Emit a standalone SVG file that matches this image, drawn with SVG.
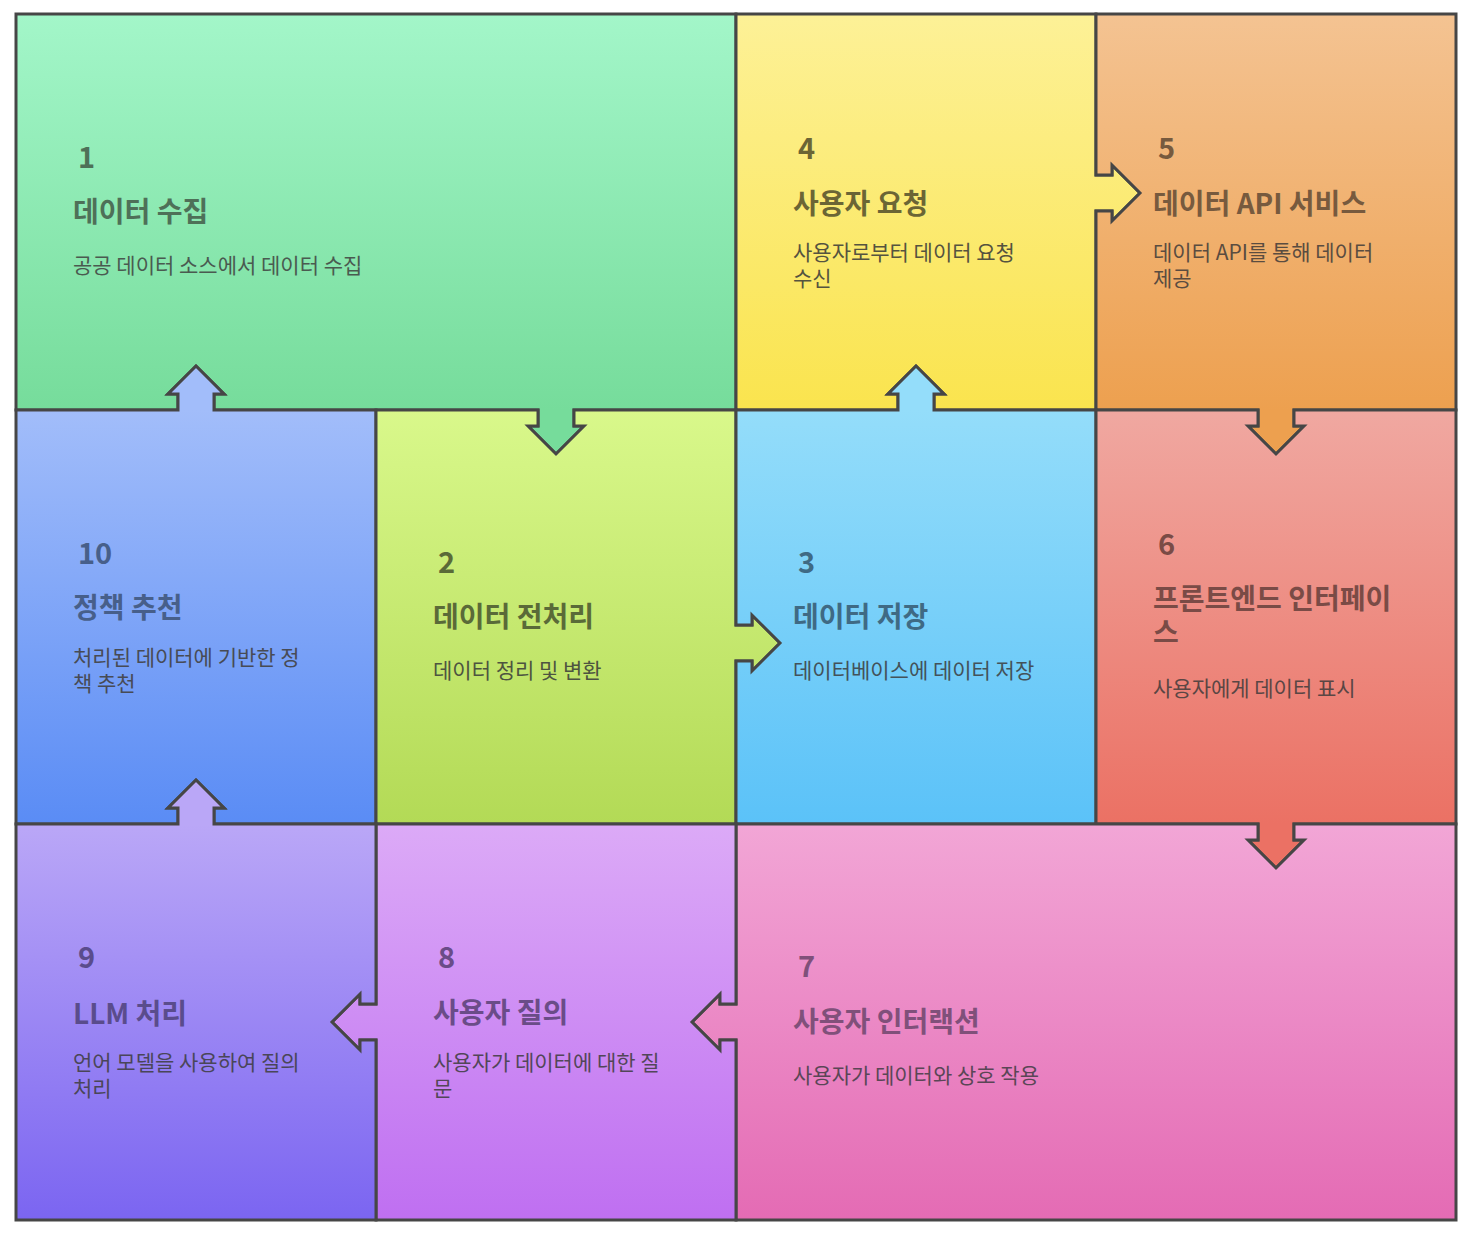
<svg xmlns="http://www.w3.org/2000/svg" width="1472" height="1238" viewBox="0 0 1472 1238">
<style>
.cell{stroke:#464646;stroke-width:3;stroke-linejoin:miter}
.num{font-family:"Noto Sans CJK KR","Noto Sans",sans-serif;font-size:29px;font-weight:700}
.ttl{font-family:"Noto Sans CJK KR","Noto Sans",sans-serif;font-size:28px;font-weight:700}
.dsc{font-family:"Noto Sans CJK KR","Noto Sans",sans-serif;font-size:21px;font-weight:400}
</style>
<defs>
<linearGradient id="g1" gradientUnits="userSpaceOnUse" x1="0" y1="14" x2="0" y2="410"><stop offset="0" stop-color="#a3f6c9"/><stop offset="1" stop-color="#76dc9b"/></linearGradient>
<linearGradient id="g4" gradientUnits="userSpaceOnUse" x1="0" y1="14" x2="0" y2="410"><stop offset="0" stop-color="#fdf197"/><stop offset="1" stop-color="#fae44e"/></linearGradient>
<linearGradient id="g5" gradientUnits="userSpaceOnUse" x1="0" y1="14" x2="0" y2="410"><stop offset="0" stop-color="#f4c392"/><stop offset="1" stop-color="#eda04f"/></linearGradient>
<linearGradient id="g10" gradientUnits="userSpaceOnUse" x1="0" y1="410" x2="0" y2="824"><stop offset="0" stop-color="#a2bdfa"/><stop offset="1" stop-color="#5a8cf5"/></linearGradient>
<linearGradient id="g2" gradientUnits="userSpaceOnUse" x1="0" y1="410" x2="0" y2="824"><stop offset="0" stop-color="#d9f88b"/><stop offset="1" stop-color="#b3da56"/></linearGradient>
<linearGradient id="g3" gradientUnits="userSpaceOnUse" x1="0" y1="410" x2="0" y2="824"><stop offset="0" stop-color="#94ddfa"/><stop offset="1" stop-color="#5bc2f8"/></linearGradient>
<linearGradient id="g6" gradientUnits="userSpaceOnUse" x1="0" y1="410" x2="0" y2="824"><stop offset="0" stop-color="#f0a8a1"/><stop offset="1" stop-color="#eb7164"/></linearGradient>
<linearGradient id="g9" gradientUnits="userSpaceOnUse" x1="0" y1="824" x2="0" y2="1220"><stop offset="0" stop-color="#baa7f7"/><stop offset="1" stop-color="#7b65f1"/></linearGradient>
<linearGradient id="g8" gradientUnits="userSpaceOnUse" x1="0" y1="824" x2="0" y2="1220"><stop offset="0" stop-color="#dcaaf7"/><stop offset="1" stop-color="#bf6ff1"/></linearGradient>
<linearGradient id="g7" gradientUnits="userSpaceOnUse" x1="0" y1="824" x2="0" y2="1220"><stop offset="0" stop-color="#f2a6d6"/><stop offset="1" stop-color="#e46bb4"/></linearGradient>
</defs>

<g id="connectors">
<!-- arrows are drawn as tabs of the source cells' outlines -->
</g>

<g id="node1">
<path class="cell" fill="url(#g1)" d="M16,14 L736,14 L736,410 L574,410 L574,426 L584,426 L556,454 L528,426 L538,426 L538,410 L214,410 L214,394 L224,394 L196,366 L168,394 L178,394 L178,410 L16,410 Z"/>
<text class="num" x="78" y="168" fill="#4e7058">1</text>
<text class="ttl" x="73" y="222" fill="#4e7058">데이터 수집</text>
<text class="dsc" x="73" y="273" fill="#4a5a50">공공 데이터 소스에서 데이터 수집</text>
</g>

<g id="node4">
<path class="cell" fill="url(#g4)" d="M736,14 L1096,14 L1096,175 L1112,175 L1112,165 L1140,193 L1112,221 L1112,211 L1096,211 L1096,410 L934,410 L934,394 L944,394 L916,366 L888,394 L898,394 L898,410 L736,410 Z"/>
<text class="num" x="798" y="159" fill="#6b6535">4</text>
<text class="ttl" x="793" y="214" fill="#6b6535">사용자 요청</text>
<text class="dsc" x="793" y="260" fill="#55533f">사용자로부터 데이터 요청</text>
<text class="dsc" x="793" y="286" fill="#55533f">수신</text>
</g>

<g id="node5">
<path class="cell" fill="url(#g5)" d="M1096,14 L1456,14 L1456,410 L1294,410 L1294,426 L1304,426 L1276,454 L1248,426 L1258,426 L1258,410 L1096,410 L1096,211 L1112,211 L1112,221 L1140,193 L1112,165 L1112,175 L1096,175 Z"/>
<text class="num" x="1158" y="159" fill="#775a3e">5</text>
<text class="ttl" x="1153" y="214" fill="#775a3e">데이터 API 서비스</text>
<text class="dsc" x="1153" y="260" fill="#5a4c40">데이터 API를 통해 데이터</text>
<text class="dsc" x="1153" y="286" fill="#5a4c40">제공</text>
</g>

<g id="node10">
<path class="cell" fill="url(#g10)" d="M16,410 L178,410 L178,394 L168,394 L196,366 L224,394 L214,394 L214,410 L376,410 L376,824 L214,824 L214,808 L224,808 L196,780 L168,808 L178,808 L178,824 L16,824 Z"/>
<text class="num" x="78" y="564" fill="#475f8a">10</text>
<text class="ttl" x="73" y="618" fill="#475f8a">정책 추천</text>
<text class="dsc" x="73" y="665" fill="#474b55">처리된 데이터에 기반한 정</text>
<text class="dsc" x="73" y="691" fill="#474b55">책 추천</text>
</g>

<g id="node2">
<path class="cell" fill="url(#g2)" d="M376,410 L538,410 L538,426 L528,426 L556,454 L584,426 L574,426 L574,410 L736,410 L736,625 L752,625 L752,615 L780,643 L752,671 L752,661 L736,661 L736,824 L376,824 Z"/>
<text class="num" x="438" y="573" fill="#5a6a38">2</text>
<text class="ttl" x="433" y="627" fill="#5a6a38">데이터 전처리</text>
<text class="dsc" x="433" y="678" fill="#4d5440">데이터 정리 및 변환</text>
</g>

<g id="node3">
<path class="cell" fill="url(#g3)" d="M736,410 L898,410 L898,394 L888,394 L916,366 L944,394 L934,394 L934,410 L1096,410 L1096,824 L736,824 L736,661 L752,661 L752,671 L780,643 L752,615 L752,625 L736,625 Z"/>
<text class="num" x="798" y="573" fill="#3f6a84">3</text>
<text class="ttl" x="793" y="627" fill="#3f6a84">데이터 저장</text>
<text class="dsc" x="793" y="678" fill="#43525a">데이터베이스에 데이터 저장</text>
</g>

<g id="node6">
<path class="cell" fill="url(#g6)" d="M1096,410 L1258,410 L1258,426 L1248,426 L1276,454 L1304,426 L1294,426 L1294,410 L1456,410 L1456,824 L1294,824 L1294,840 L1304,840 L1276,868 L1248,840 L1258,840 L1258,824 L1096,824 Z"/>
<text class="num" x="1158" y="555" fill="#7a4b46">6</text>
<text class="ttl" x="1153" y="609" fill="#7a4b46">프론트엔드 인터페이</text>
<text class="ttl" x="1153" y="643" fill="#7a4b46">스</text>
<text class="dsc" x="1153" y="696" fill="#5a4644">사용자에게 데이터 표시</text>
</g>

<g id="node7">
<path class="cell" fill="url(#g7)" d="M736,824 L1258,824 L1258,840 L1248,840 L1276,868 L1304,840 L1294,840 L1294,824 L1456,824 L1456,1220 L736,1220 L736,1040 L720,1040 L720,1050 L692,1022 L720,994 L720,1004 L736,1004 Z"/>
<text class="num" x="798" y="977" fill="#80507a">7</text>
<text class="ttl" x="793" y="1032" fill="#80507a">사용자 인터랙션</text>
<text class="dsc" x="793" y="1083" fill="#5a4656">사용자가 데이터와 상호 작용</text>
</g>

<g id="node8">
<path class="cell" fill="url(#g8)" d="M376,824 L736,824 L736,1004 L720,1004 L720,994 L692,1022 L720,1050 L720,1040 L736,1040 L736,1220 L376,1220 L376,1040 L360,1040 L360,1050 L332,1022 L360,994 L360,1004 L376,1004 Z"/>
<text class="num" x="438" y="968" fill="#6a4c88">8</text>
<text class="ttl" x="433" y="1023" fill="#6a4c88">사용자 질의</text>
<text class="dsc" x="433" y="1070" fill="#524658">사용자가 데이터에 대한 질</text>
<text class="dsc" x="433" y="1096" fill="#524658">문</text>
</g>

<g id="node9">
<path class="cell" fill="url(#g9)" d="M16,824 L178,824 L178,808 L168,808 L196,780 L224,808 L214,808 L214,824 L376,824 L376,1004 L360,1004 L360,994 L332,1022 L360,1050 L360,1040 L376,1040 L376,1220 L16,1220 Z"/>
<text class="num" x="78" y="968" fill="#5a4c8c">9</text>
<text class="ttl" x="73" y="1024" fill="#5a4c8c">LLM 처리</text>
<text class="dsc" x="73" y="1070" fill="#4a4658">언어 모델을 사용하여 질의</text>
<text class="dsc" x="73" y="1096" fill="#4a4658">처리</text>
</g>
</svg>
